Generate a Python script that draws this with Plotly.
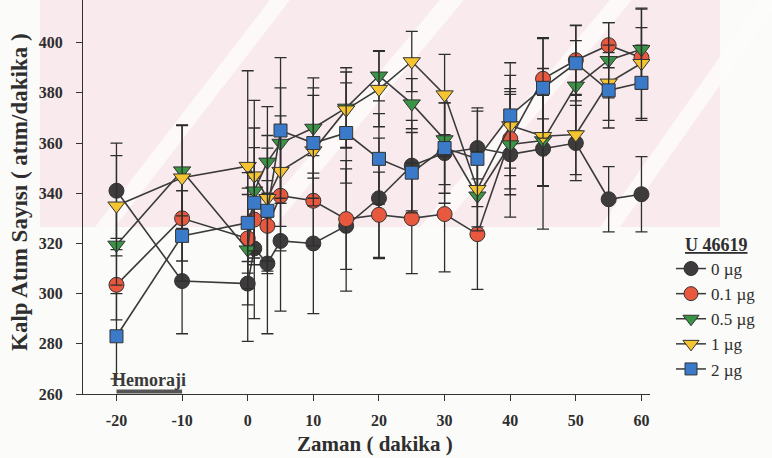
import plotly.graph_objects as go

# Sampling times (minutes) relative to end of haemorrhage
zaman = [-20, -10, 0, 1, 3, 5, 10, 15, 20, 25, 30, 35, 40, 45, 50, 55, 60]

# Heart rate means (beats/min) per U 46619 dose
hr_0 = [341, 305, 304, 318, 312, 321, 320, 327, 338, 351, 356, 358, 355.5, 357.7, 360, 337.6, 339.6]
hr_01 = [303.5, 330, 322, 329.5, 327, 339, 337, 329.7, 331.4, 330, 331.7, 323.7, 361.7, 385.6, 393, 399, 394]
hr_05 = [319.4, 349, 317.5, 341, 352.5, 360, 366, 374, 386.8, 375.7, 361.4, 339, 359.4, 361, 382.8, 393, 397.4]
hr_1 = [335, 346.2, 350.8, 347, 338, 348.8, 357, 373.3, 381.5, 392.5, 379.3, 341.6, 367, 362.7, 363.4, 384, 391.8]
hr_2 = [283, 323, 328.2, 336.2, 333, 365, 360, 364, 353.7, 348.2, 358, 353.7, 371, 382, 391.8, 381, 384]

# Standard errors
se_0 = [19, 21, 23, 28, 28, 28, 28, 26, 24, 18, 20, 16, 25, 32, 15, 13, 15]
se_01 = [14, 17, 20, 18, 18, 22, 18, 20, 17, 22, 23, 22, 20, 16, 14, 9, 12]
se_05 = [16, 18, 22, 25, 22, 22, 20, 16, 10, 10, 18, 14, 20, 18, 18, 15, 16]
se_1 = [20, 21, 38, 30, 25, 22, 22, 15, 15, 12, 16, 15, 20, 20, 16, 15, 22]
se_2 = [17, 18, 20, 22, 25, 29, 22, 20, 18, 16, 18, 19, 21, 20, 15, 15, 15]

doz_etiketleri = ["0 µg", "0.1 µg", "0.5 µg", "1 µg", "2 µg"]
x_ticks = [-20, -10, 0, 10, 20, 30, 40, 50, 60]
x_ticktext = ["-20", "-10", "0", "10", "20", "30", "40", "50", "60"]
y_ticks = [260, 280, 300, 320, 340, 360, 380, 400]

seriler = [
    (hr_0, se_0, "circle", "#3d3b3c", 15),
    (hr_01, se_01, "circle", "#e8583f", 15),
    (hr_05, se_05, "triangle-down", "#3a9446", 15),
    (hr_1, se_1, "triangle-down", "#f4c431", 15),
    (hr_2, se_2, "square", "#3a7ac9", 13),
]

SERIF = "Liberation Serif, Times New Roman, serif"
INK = "#2e2e2e"

fig = go.Figure()
for (vals, se, sym, col, sz), name in zip(seriler, doz_etiketleri):
    fig.add_trace(go.Scatter(
        x=zaman, y=vals, name=name, mode="lines+markers", showlegend=False,
        line=dict(color="#3a3a3a", width=1.6),
        marker=dict(symbol=sym, size=sz, color=col,
                    line=dict(color="#333333", width=1)),
        error_y=dict(type="data", array=se, visible=True,
                     color=INK, thickness=1.3, width=6),
    ))
# Legend entries (no error bars, thin connector line)
for (vals, se, sym, col, sz), name in zip(seriler, doz_etiketleri):
    fig.add_trace(go.Scatter(
        x=[None], y=[None], name=name, mode="lines+markers",
        line=dict(color="#3a3a3a", width=1.5),
        marker=dict(symbol=sym, size=sz - 1, color=col,
                    line=dict(color="#333333", width=1)),
    ))

# Plot area geometry (pixels)
W, H = 772, 458
L, R, T, B = 83, 122, 0, 64
pw, ph = W - L - R, H - T - B


def px(x):
    return (x - L) / pw


def py(y):
    return (H - B - y) / ph


# Faint pink watermark band behind the upper part of the chart
shapes = [dict(type="rect", xref="paper", yref="paper",
               x0=px(40), x1=px(720), y0=py(227), y1=py(0),
               fillcolor="rgba(246,205,213,0.34)", line=dict(width=0),
               layer="below")]
for xb, xt, w in [(95, 270, 20), (250, 440, 24), (420, 610, 22), (600, 760, 20)]:
    path = (f"M {px(xb)},{py(227)} L {px(xb + w)},{py(227)} "
            f"L {px(xt + w)},{py(0)} L {px(xt)},{py(0)} Z")
    shapes.append(dict(type="path", xref="paper", yref="paper", path=path,
                       fillcolor="rgba(252,252,250,0.8)", line=dict(width=0),
                       layer="below"))

# Haemorrhage period bar
shapes.append(dict(type="line", xref="x", yref="y", x0=-20, x1=-10,
                   y0=261, y1=261, line=dict(color="#555555", width=4)))

fig.update_layout(
    width=W, height=H,
    margin=dict(l=L, r=R, t=T, b=B),
    paper_bgcolor="#fbfbf9", plot_bgcolor="rgba(0,0,0,0)",
    font=dict(family=SERIF, color=INK),
    shapes=shapes,
    showlegend=True,
    legend=dict(
        xref="container", yref="container", x=671 / W, y=1 - 251 / H,
        xanchor="left", yanchor="top", bgcolor="rgba(0,0,0,0)",
        font=dict(family=SERIF, size=17, color=INK),
        itemsizing="trace", tracegroupgap=0,
    ),
    annotations=[
        dict(text="<b><u>U 46619</u></b>", xref="paper", yref="paper",
             x=px(716), y=py(245), xanchor="center", yanchor="middle",
             showarrow=False, font=dict(family=SERIF, size=18, color=INK)),
        dict(text="<b>Hemoraji</b>", x=-15, y=265.5, xref="x", yref="y",
             xanchor="center", yanchor="middle",
             showarrow=False, font=dict(family=SERIF, size=18, color="#3a3a3a")),
        dict(text="<b>Kalp Atım Sayısı ( atım/dakika )</b>", textangle=-90,
             xref="paper", yref="paper", x=px(19), y=py(192),
             xanchor="center", yanchor="middle",
             showarrow=False, font=dict(family=SERIF, size=23, color=INK)),
        dict(text="<b>Zaman ( dakika )</b>", xref="paper", yref="paper",
             x=px(375), y=py(444), xanchor="center", yanchor="middle",
             showarrow=False, font=dict(family=SERIF, size=21, color=INK)),
    ],
)

axis_common = dict(showline=True, linecolor="#333333", linewidth=1.3,
                   ticks="outside", ticklen=6, tickwidth=1.2, tickcolor="#333333",
                   showgrid=False, zeroline=False,
                   tickfont=dict(family=SERIF, size=16, color=INK, weight="bold"))
fig.update_xaxes(range=[-25.1, 61.3], tickvals=x_ticks, ticktext=x_ticktext,
                 ticklabelstandoff=6, **axis_common)
fig.update_yaxes(range=[260, 417], tickvals=y_ticks, ticklabelstandoff=10,
                 **axis_common)

fig.write_html("out.html")
